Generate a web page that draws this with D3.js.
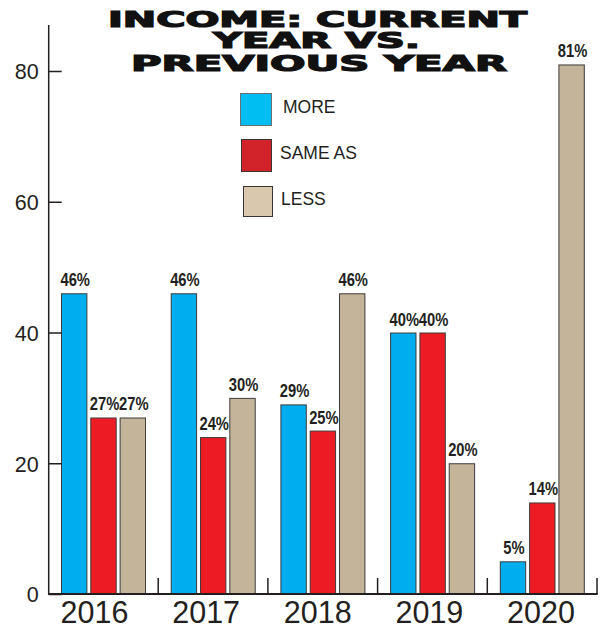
<!DOCTYPE html>
<html>
<head>
<meta charset="utf-8">
<script src="https://cdn.jsdelivr.net/npm/d3@7"></script>
<style>
  html, body { margin: 0; padding: 0; background: #fff; }
  svg { display: block; }
</style>
</head>
<body>
<svg id="chart" width="603" height="625"></svg>
<script>
const years = ["2016", "2017", "2018", "2019", "2020"];
const seriesNames = ["MORE", "SAME AS", "LESS"];
const more   = [46, 46, 29, 40, 5];
const sameAs = [27, 24, 25, 40, 14];
const less   = [27, 30, 46, 20, 81];
const yTicks = [0, 20, 40, 60, 80];
const titleLines = ["INCOME: CURRENT", "YEAR VS.", "PREVIOUS YEAR"];

const barColors = ["#00aeef", "#ed1c24", "#c4b49a"];
const legendColors = ["#00bdf2", "#d2232a", "#d9c8ae"];
const ink = "#231f20";

const svg = d3.select("#chart");

const x0 = d3.scaleBand().domain(years).range([48.5, 597]).paddingInner(0).paddingOuter(0);
const x1 = d3.scaleBand().domain(seriesNames).range([12.5, 97.5]).paddingInner(0.1);
const y = d3.scaleLinear().domain([0, 80]).range([594, 71]);
const xLabel = d3.scalePoint().domain(years).range([94, 540.5]);

const seriesVals = [more, sameAs, less];
const data = years.map((yr, i) => ({
  year: yr,
  vals: seriesNames.map((s, j) => ({ key: s, j, value: seriesVals[j][i] }))
}));

// Bars
const groups = svg.append("g").selectAll("g").data(data).join("g")
  .attr("transform", d => `translate(${x0(d.year)},0)`);

groups.selectAll("rect").data(d => d.vals).join("rect")
  .attr("x", d => x1(d.key) + 0.5)
  .attr("y", d => y(d.value) + 0.5)
  .attr("width", x1.bandwidth() - 1)
  .attr("height", d => y(0) - y(d.value) - 0.5)
  .attr("fill", d => barColors[d.j])
  .attr("stroke", "#3d3a3a")
  .attr("stroke-width", 1);

// Bar value labels
groups.selectAll("text").data(d => d.vals).join("text")
  .attr("transform", d => `translate(${x1(d.key) + x1.bandwidth() / 2 + 1},${y(d.value) - 7}) scale(0.82,1)`)
  .attr("text-anchor", "middle")
  .attr("font-family", "'Liberation Sans', Arial, sans-serif")
  .attr("font-weight", "bold")
  .attr("font-size", 18)
  .attr("fill", ink)
  .text(d => d.value + "%");

// Y axis
const yAxis = d3.axisLeft(y).tickValues(yTicks).tickSizeInner(-13).tickSizeOuter(0).tickPadding(10);
const gy = svg.append("g").attr("transform", "translate(48.7,0)").call(yAxis);
gy.select(".domain").remove();
gy.selectAll(".tick line").attr("stroke", ink).attr("stroke-width", 1.5);
gy.selectAll(".tick text")
  .attr("font-family", "'Liberation Sans', Arial, sans-serif")
  .attr("font-size", 21.5)
  .attr("fill", ink)
  .attr("dy", "0.36em");
svg.append("line")
  .attr("x1", 48.7).attr("x2", 48.7)
  .attr("y1", 25).attr("y2", y(0) + 0.75)
  .attr("stroke", ink).attr("stroke-width", 1.5);

// X baseline and group separators
svg.append("line")
  .attr("x1", 48).attr("x2", x0.range()[1] + 0.75)
  .attr("y1", y(0)).attr("y2", y(0))
  .attr("stroke", ink).attr("stroke-width", 1.8);
svg.append("g").selectAll("line").data(years).join("line")
  .attr("x1", d => x0(d) + x0.step())
  .attr("x2", d => x0(d) + x0.step())
  .attr("y1", y(0)).attr("y2", y(0) - 16)
  .attr("stroke", ink).attr("stroke-width", 1.5);

// X labels
const xAxis = d3.axisBottom(xLabel).tickSize(0).tickPadding(0);
const gx = svg.append("g").attr("transform", `translate(0,${y(0)})`).call(xAxis);
gx.select(".domain").remove();
gx.selectAll(".tick text")
  .attr("font-family", "'Liberation Sans', Arial, sans-serif")
  .attr("font-size", 30.5)
  .attr("fill", ink)
  .attr("dy", 0)
  .attr("y", 29);

// Title
const titleWidths = [419, 207, 376];
const titleCenters = [317.5, 316.5, 319];
const titleBaselines = [27.3, 48.3, 70.7];
svg.append("g").selectAll("text").data(titleLines).join("text")
  .attr("x", (d, i) => titleCenters[i] - titleWidths[i] / 2)
  .attr("y", (d, i) => titleBaselines[i])
  .attr("textLength", (d, i) => titleWidths[i])
  .attr("lengthAdjust", "spacingAndGlyphs")
  .attr("font-family", "'DejaVu Sans', sans-serif")
  .attr("font-weight", "bold")
  .attr("font-size", 20.5)
  .attr("fill", "#111")
  .attr("stroke", "#111")
  .attr("stroke-width", 1.2)
  .text(d => d);

// Legend
const legendRects = [
  { x: 240, y: 93, w: 32, h: 33 },
  { x: 241, y: 139, w: 31, h: 33 },
  { x: 243, y: 186, w: 30, h: 31 }
];
const legendText = [
  { x: 283, y: 113 },
  { x: 280, y: 159 },
  { x: 281, y: 205 }
];
const lg = svg.append("g");
lg.selectAll("rect").data(seriesNames).join("rect")
  .attr("x", (d, i) => legendRects[i].x + 0.5)
  .attr("y", (d, i) => legendRects[i].y + 0.5)
  .attr("width", (d, i) => legendRects[i].w - 1)
  .attr("height", (d, i) => legendRects[i].h - 1)
  .attr("fill", (d, i) => legendColors[i])
  .attr("stroke", (d, i) => i === 0 ? "#6d6e71" : "#3a3434")
  .attr("stroke-width", 1);
lg.selectAll("text").data(seriesNames).join("text")
  .attr("x", (d, i) => legendText[i].x)
  .attr("y", (d, i) => legendText[i].y)
  .attr("font-family", "'Liberation Sans', Arial, sans-serif")
  .attr("font-size", 17.5)
  .attr("fill", ink)
  .text(d => d);
</script>
</body>
</html>
